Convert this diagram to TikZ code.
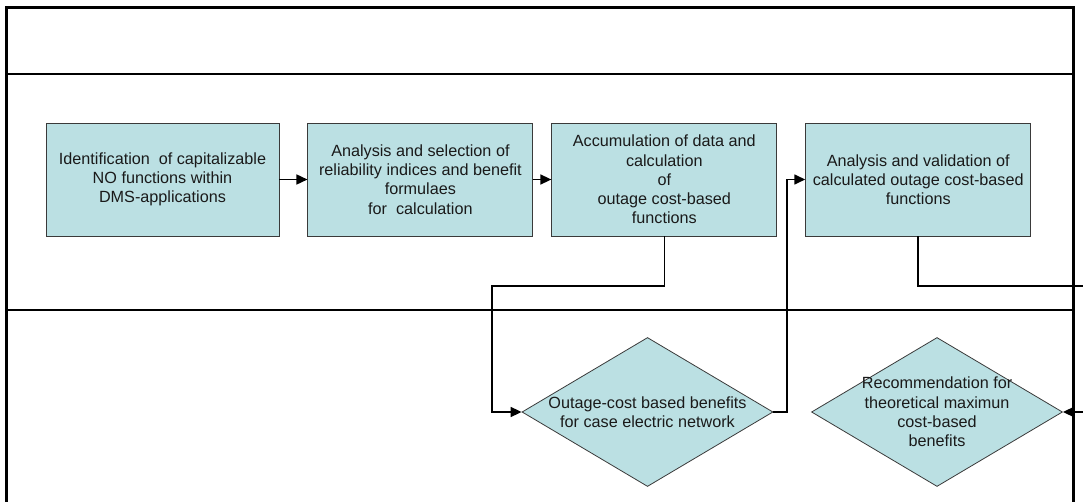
\documentclass[tikz,border=0pt]{standalone}
\usepackage{fontspec}
\setmainfont{Liberation Sans}
\usepackage{xcolor}
\usepackage{tikz}
\usetikzlibrary{arrows.meta,positioning,shapes.geometric}
\definecolor{fl}{HTML}{BBE0E3}
\definecolor{ed}{HTML}{3A3A3A}
\definecolor{tx}{HTML}{1A1A1A}
\newcommand{\Fs}{\fontsize{16.2}{19.2}\selectfont}

\begin{document}
\begin{tikzpicture}[x=1pt,y=-1pt,
  task/.style={draw=ed, line width=0.9pt, fill=fl, align=center, minimum width=225pt, minimum height=113pt, inner sep=2pt, font=\Fs, text=tx},
  decision/.style={diamond, draw=ed, line width=0.8pt, fill=fl, minimum width=251pt, minimum height=149pt, inner sep=0pt},
  dtext/.style={align=center, font=\Fs, text=tx},
  flow/.style={line width=1.6pt, -{Triangle[length=11pt,width=10pt]}},
  link/.style={line width=1.6pt},
  lane/.style={line width=1.2pt}]
  \useasboundingbox (0,0) rectangle (1083,502);
  \draw[line width=3.5pt] (6.5,515) -- (6.5,7.5) -- (1073.5,7.5) -- (1073.5,515);
  \draw[lane] (6.5,74) -- (1073.5,74);
  \draw[lane] (6.5,310) -- (1073.5,310);

  \node[task, minimum width=233pt] (ident) at (162.5,179.5)
    {Identification~ of capitalizable\\NO functions within\\DMS-applications};
  \node[task, right=28pt of ident] (select)
    {Analysis and selection of\\reliability indices and benefit\\formulaes\\for~ calculation};
  \node[task, right=18pt of select] (accum)
    {Accumulation of data and\\calculation\\of\\outage cost-based\\functions};
  \node[task, right=28pt of accum] (valid)
    {Analysis and validation of\\calculated outage cost-based\\functions};

  \node[decision, label={[dtext]center:Outage-cost based benefits\\for case electric network}] (case) at (647.5,412) {};
  \node[decision, label={[dtext]center:Recommendation for\\theoretical maximun\\cost-based\\benefits}] (recom) at (937,412) {};

  \coordinate (bend1) at (492,286);
  \coordinate (bend2) at (787,412);
  \coordinate (out1) at (1095,286);
  \coordinate (in1) at (1095,412);

  \draw[flow] (ident) -- (select);
  \draw[flow] (select) -- (accum);
  \draw[flow] (accum.south) |- (bend1) |- (case.west);
  \draw[flow] (case.east) -- (bend2) |- (valid.west);
  \draw[link] (valid.south) |- (out1);
  \draw[flow] (in1) -- (recom.east);
\end{tikzpicture}
\end{document}
